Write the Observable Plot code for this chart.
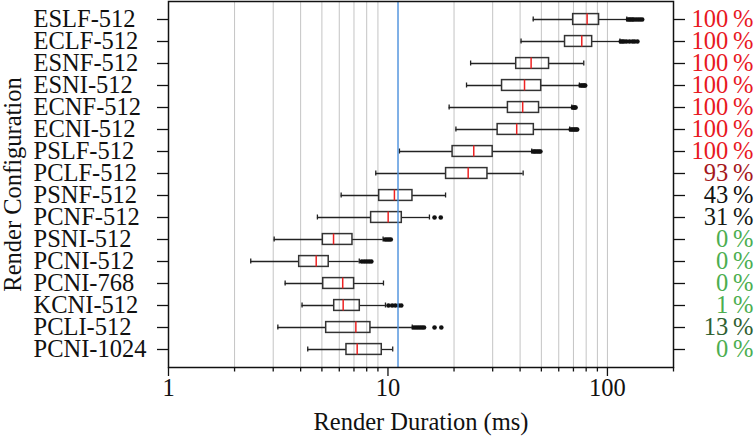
<!DOCTYPE html>
<html><head><meta charset="utf-8">
<script src="https://cdn.jsdelivr.net/npm/d3@7"></script>
<script src="https://cdn.jsdelivr.net/npm/@observablehq/plot@0.6"></script>
<style>body{margin:0;background:#fff} svg{display:block}</style>
</head><body><div id="chart"></div>
<script>
const configs = ["ESLF-512","ECLF-512","ESNF-512","ESNI-512","ECNF-512","ECNI-512","PSLF-512","PCLF-512","PSNF-512","PCNF-512","PSNI-512","PCNI-512","PCNI-768","KCNI-512","PCLI-512","PCNI-1024"];
const whiskerLow  = [45.9, 40.4, 23.8, 22.8, 19.0, 20.4, 11.28, 8.80, 6.12, 4.77, 3.03, 2.37, 3.40, 4.06, 3.15, 4.31];
const quartile1   = [69.8, 64.1, 38.4, 33.1, 35.2, 31.6, 19.7, 18.4, 9.12, 8.38, 5.05, 3.94, 5.07, 5.69, 5.23, 6.47];
const medians     = [80.8, 76.4, 44.9, 41.9, 41.1, 38.6, 24.6, 23.2, 10.7, 10.02, 5.65, 4.71, 6.22, 6.25, 7.14, 7.24];
const quartile3   = [91.6, 85.2, 54.2, 49.9, 48.8, 46.2, 30.0, 28.4, 12.93, 11.56, 6.89, 5.37, 7.01, 7.44, 8.32, 9.37];
const whiskerHigh = [122.5, 114, 78.0, 74.5, 68.8, 67.3, 45.2, 41.3, 18.3, 15.45, 9.5, 7.4, 9.54, 9.74, 12.9, 10.51];
const outliers = [
  [124,126,128,130,132,135,138,141,144],
  [115,117,119,122,126,130,133,137],
  [],
  [75.5,76.5,77.5,78.5,79.2],
  [69.6,70.3,71,71.6],
  [68,69,70,71,72,72.8],
  [45.8,46.5,47.2,48,48.8,49.5],
  [],
  [],
  [16.3,17.4],
  [9.7,9.9,10.1,10.3],
  [7.6,7.8,8.0,8.2,8.4],
  [],
  [10.05,10.45,10.8,11.2,11.5],
  [13.1,13.4,13.7,14.0,14.3,14.6,16.3,17.5],
  []
];
const percentages = [100,100,100,100,100,100,100,93,43,31,0,0,0,1,13,0];
const majorTicks = [1, 10, 100];
const minorTicks = [2,3,4,5,6,7,8,9,20,30,40,50,60,70,80,90,200];
const gridValues = [2,3,4,5,6,7,8,9,20,30,40,50,60,70,80,90,100];
const targetMs = 1000 / 90;

const rows = configs.map((c, i) => ({config: c, lo: whiskerLow[i], q1: quartile1[i], med: medians[i], q3: quartile3[i], hi: whiskerHigh[i], pct: percentages[i]}));
const outlierRows = configs.flatMap((c, i) => outliers[i].map(v => ({config: c, value: v})));

function pctColor(p) {
  if (p >= 40) {
    const t = Math.pow((p - 40) / 60, 3);
    return d3.interpolateRgb("#111111", "#e8191f")(t);
  }
  const t = Math.pow(Math.min(1, (40 - p) / 38), 2);
  return d3.interpolateRgb("#111111", "#4cae4f")(t);
}

const FS = 24.5;
const chart = Plot.plot({
  width: 754, height: 441,
  marginLeft: 168, marginRight: 81, marginTop: 1, marginBottom: 74,
  style: {fontFamily: "'Liberation Serif', 'Times New Roman', serif", fontSize: "24px", background: "#fff", color: "#111"},
  x: {type: "log", domain: [1, 200], axis: null},
  y: {type: "band", domain: configs, padding: 0, axis: null},
  color: {type: "identity"},
  marks: [
    Plot.ruleX(gridValues, {stroke: "#c4c4c4", strokeWidth: 1}),
    Plot.ruleY(rows, {y: "config", x1: "lo", x2: "q1", stroke: "#222", strokeWidth: 1.3}),
    Plot.ruleY(rows, {y: "config", x1: "q3", x2: "hi", stroke: "#222", strokeWidth: 1.3}),
    Plot.tickX(rows, {x: "lo", y: "config", insetTop: 8.5, insetBottom: 8.5, stroke: "#222", strokeWidth: 1.3}),
    Plot.tickX(rows, {x: "hi", y: "config", insetTop: 8.5, insetBottom: 8.5, stroke: "#222", strokeWidth: 1.3}),
    Plot.barX(rows, {x1: "q1", x2: "q3", y: "config", insetTop: 5.6, insetBottom: 5.6, fill: "none", stroke: "#333", strokeWidth: 1.5}),
    Plot.tickX(rows, {x: "med", y: "config", insetTop: 5.6, insetBottom: 5.6, stroke: "#ee2222", strokeWidth: 1.5}),
    Plot.dot(outlierRows, {x: "value", y: "config", r: 2.3, fill: "#111", stroke: null}),
    Plot.ruleX([targetMs], {stroke: "#4a8fdc", strokeWidth: 1.4}),
    Plot.frame({stroke: "#111", strokeWidth: 1.5}),
    Plot.axisY({anchor: "left", label: null, tickSize: 11, tickFormat: () => "", stroke: "#111", strokeWidth: 1.3}),
    Plot.axisY({anchor: "right", label: null, tickSize: 11, tickFormat: () => "", stroke: "#111", strokeWidth: 1.3}),
    Plot.axisX({anchor: "bottom", label: null, ticks: majorTicks, tickSize: 9, tickFormat: () => "", stroke: "#111", strokeWidth: 1.3}),
    Plot.axisX({anchor: "bottom", label: null, ticks: minorTicks, tickSize: 4.5, tickFormat: () => "", stroke: "#111", strokeWidth: 1.3}),
    Plot.text(majorTicks, {x: d => d, text: d => String(d), frameAnchor: "bottom", dy: 28, fontSize: FS, fill: "#111"}),
    Plot.text(["Render Duration (ms)"], {text: d => d, frameAnchor: "bottom", dy: 62, fontSize: FS, fill: "#111"}),
    Plot.text(["Render Configuration"], {text: d => d, frameAnchor: "left", textAnchor: "middle", dx: -155, rotate: -90, fontSize: FS, fill: "#111"}),
    Plot.text(configs, {y: d => d, text: d => d, frameAnchor: "left", textAnchor: "start", dx: -135, fontSize: FS, fill: "#111"}),
    Plot.text(rows, {y: "config", text: d => d.pct + "\u2009%", frameAnchor: "right", textAnchor: "end", dx: 80, fontSize: FS, fill: d => pctColor(d.pct)})
  ]
});
document.getElementById("chart").appendChild(chart);
</script>
</body></html>
